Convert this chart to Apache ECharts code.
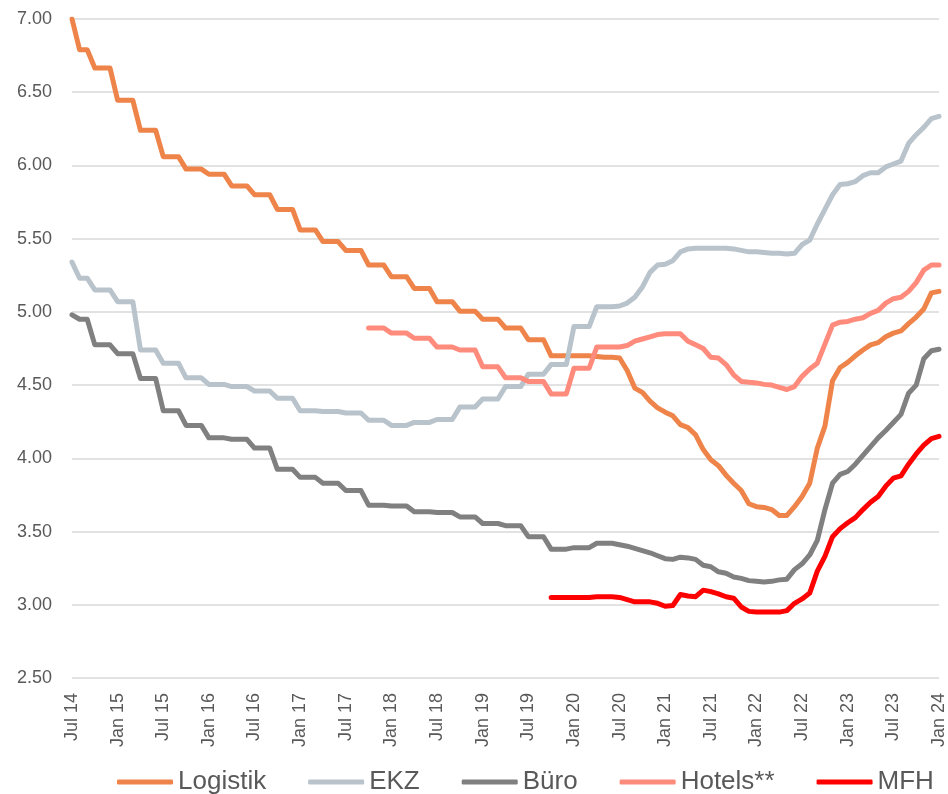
<!DOCTYPE html>
<html>
<head>
<meta charset="utf-8">
<script src="https://cdn.jsdelivr.net/npm/echarts@6/dist/echarts.min.js"></script>
<style>
  html, body { margin: 0; padding: 0; background: #fff; }
  #chart { width: 948px; height: 794px; }
</style>
</head>
<body>
<div id="chart"></div>
<script>
// Monatsachse Jul 14 .. Jan 24
var monthNames = ["Jan", "Feb", "Mar", "Apr", "May", "Jun", "Jul", "Aug", "Sep", "Oct", "Nov", "Dec"];
var categories = [];
for (var i = 0; i < 115; i++) {
  var m = (6 + i) % 12;
  var y = 14 + Math.floor((6 + i) / 12);
  categories.push(monthNames[m] + " " + y);
}

var yTicks = [2.5, 7.0, 0.5]; // min, max, interval

var logistik = [
  7.00, 6.79, 6.79, 6.665, 6.665, 6.665, 6.445, 6.445, 6.445, 6.24, 6.24, 6.24,
  6.06, 6.06, 6.06, 5.975, 5.975, 5.975, 5.94, 5.94, 5.94, 5.86, 5.86, 5.86,
  5.80, 5.80, 5.80, 5.70, 5.70, 5.70, 5.56, 5.56, 5.56, 5.48, 5.48, 5.48,
  5.42, 5.42, 5.42, 5.32, 5.32, 5.32, 5.24, 5.24, 5.24, 5.16, 5.16, 5.16,
  5.07, 5.07, 5.07, 5.005, 5.005, 5.005, 4.95, 4.95, 4.95, 4.89, 4.89, 4.89,
  4.81, 4.81, 4.81, 4.70, 4.70, 4.70, 4.70, 4.70, 4.70, 4.695, 4.69, 4.69,
  4.685, 4.60, 4.48, 4.45, 4.39, 4.345, 4.315, 4.29, 4.23, 4.21, 4.16, 4.06,
  3.99, 3.95, 3.885, 3.83, 3.78, 3.69, 3.67, 3.665, 3.65, 3.61, 3.61, 3.67,
  3.74, 3.83, 4.07, 4.22, 4.53, 4.62, 4.655, 4.70, 4.74, 4.775, 4.79, 4.83,
  4.855, 4.87, 4.92, 4.965, 5.02, 5.13, 5.14
];

var ekz = [
  5.34, 5.23, 5.23, 5.15, 5.15, 5.15, 5.07, 5.07, 5.07, 4.74, 4.74, 4.74,
  4.65, 4.65, 4.65, 4.55, 4.55, 4.55, 4.505, 4.505, 4.505, 4.49, 4.49, 4.49,
  4.46, 4.46, 4.46, 4.41, 4.41, 4.41, 4.325, 4.325, 4.325, 4.32, 4.32, 4.32,
  4.31, 4.31, 4.31, 4.26, 4.26, 4.26, 4.225, 4.225, 4.225, 4.245, 4.245, 4.245,
  4.265, 4.265, 4.265, 4.35, 4.35, 4.35, 4.405, 4.405, 4.405, 4.49, 4.49, 4.49,
  4.575, 4.575, 4.575, 4.64, 4.64, 4.64, 4.90, 4.90, 4.90, 5.035, 5.035, 5.035,
  5.04, 5.06, 5.10, 5.17, 5.27, 5.32, 5.325, 5.35, 5.41, 5.43, 5.435, 5.435,
  5.435, 5.435, 5.435, 5.43, 5.42, 5.41, 5.41, 5.405, 5.40, 5.40, 5.395, 5.40,
  5.46, 5.49, 5.60, 5.70, 5.80, 5.87, 5.875, 5.89, 5.93, 5.95, 5.95, 5.99,
  6.01, 6.03, 6.15, 6.21, 6.26, 6.32, 6.335
];

var buero = [
  4.98, 4.95, 4.95, 4.775, 4.775, 4.775, 4.715, 4.715, 4.715, 4.545, 4.545, 4.545,
  4.325, 4.325, 4.325, 4.225, 4.225, 4.225, 4.14, 4.14, 4.14, 4.13, 4.13, 4.13,
  4.07, 4.07, 4.07, 3.925, 3.925, 3.925, 3.87, 3.87, 3.87, 3.83, 3.83, 3.83,
  3.78, 3.78, 3.78, 3.68, 3.68, 3.68, 3.675, 3.675, 3.675, 3.635, 3.635, 3.635,
  3.63, 3.63, 3.63, 3.60, 3.60, 3.60, 3.555, 3.555, 3.555, 3.54, 3.54, 3.54,
  3.465, 3.465, 3.465, 3.38, 3.38, 3.38, 3.39, 3.39, 3.39, 3.42, 3.42, 3.42,
  3.41, 3.40, 3.385, 3.37, 3.355, 3.335, 3.315, 3.31, 3.325, 3.32, 3.31, 3.27,
  3.26, 3.225, 3.215, 3.19, 3.18, 3.165, 3.16, 3.155, 3.16, 3.17, 3.175, 3.24,
  3.28, 3.34, 3.44, 3.65, 3.83, 3.89, 3.91, 3.96, 4.02, 4.08, 4.14, 4.19,
  4.245, 4.30, 4.445, 4.50, 4.68, 4.735, 4.745
];

var hotels = [
  null, null, null, null, null, null, null, null, null, null, null, null,
  null, null, null, null, null, null, null, null, null, null, null, null,
  null, null, null, null, null, null, null, null, null, null, null, null,
  null, null, null, 4.89, 4.89, 4.89, 4.855, 4.855, 4.855, 4.82, 4.82, 4.82,
  4.76, 4.76, 4.76, 4.74, 4.74, 4.74, 4.625, 4.625, 4.625, 4.55, 4.55, 4.55,
  4.525, 4.525, 4.525, 4.44, 4.44, 4.44, 4.615, 4.615, 4.615, 4.76, 4.76, 4.76,
  4.76, 4.77, 4.80, 4.815, 4.83, 4.845, 4.85, 4.85, 4.85, 4.80, 4.775, 4.75,
  4.69, 4.685, 4.64, 4.57, 4.525, 4.52, 4.515, 4.505, 4.50, 4.485, 4.47, 4.49,
  4.56, 4.61, 4.65, 4.78, 4.91, 4.93, 4.935, 4.95, 4.96, 4.99, 5.01, 5.06,
  5.09, 5.10, 5.14, 5.20, 5.285, 5.32, 5.32
];

var mfh = [
  null, null, null, null, null, null, null, null, null, null, null, null,
  null, null, null, null, null, null, null, null, null, null, null, null,
  null, null, null, null, null, null, null, null, null, null, null, null,
  null, null, null, null, null, null, null, null, null, null, null, null,
  null, null, null, null, null, null, null, null, null, null, null, null,
  null, null, null, 3.05, 3.05, 3.05, 3.05, 3.05, 3.05, 3.055, 3.055, 3.055,
  3.05, 3.035, 3.02, 3.02, 3.02, 3.01, 2.99, 2.995, 3.07, 3.06, 3.055, 3.10,
  3.09, 3.075, 3.055, 3.045, 2.985, 2.955, 2.95, 2.95, 2.95, 2.95, 2.96, 3.01,
  3.04, 3.08, 3.23, 3.33, 3.465, 3.52, 3.56, 3.595, 3.65, 3.70, 3.74, 3.81,
  3.865, 3.88, 3.96, 4.03, 4.09, 4.135, 4.15
];

var seriesNames = ["Logistik", "EKZ", "Büro", "Hotels**", "MFH"];
var seriesColors = ["#EE8449", "#B9C3CB", "#808080", "#FF8B7C", "#FF0000"];
var seriesData = [logistik, ekz, buero, hotels, mfh];

var font = "'Liberation Sans', Arial, sans-serif";

function makeSeries() {
  var out = [];
  for (var i = 0; i < seriesNames.length; i++) {
    out.push({
      name: seriesNames[i],
      type: "line",
      data: seriesData[i],
      showSymbol: false,
      symbol: "none",
      connectNulls: false,
      color: seriesColors[i],
      lineStyle: { width: 5, color: seriesColors[i], cap: "round", join: "round" }
    });
  }
  return out;
}

var chart = echarts.init(document.getElementById("chart"), null, { renderer: "canvas" });
var option = {
  animation: false,
  backgroundColor: "#ffffff",
  grid: { left: 72, right: 6, top: 19, bottom: 116 },
  legend: {
    data: seriesNames,
    left: 112,
    top: 764,
    itemWidth: 56,
    itemHeight: 5,
    itemGap: 42,
    icon: "roundRect",
    textStyle: { fontSize: 26, color: "#595959", fontFamily: font }
  },
  xAxis: {
    type: "category",
    data: categories,
    boundaryGap: false,
    axisLine: { show: false },
    axisTick: { show: false },
    axisLabel: {
      interval: 5,
      rotate: 90,
      margin: 15,
      fontSize: 18,
      color: "#595959",
      fontFamily: font
    },
    splitLine: { show: false }
  },
  yAxis: {
    type: "value",
    min: yTicks[0],
    max: yTicks[1],
    interval: yTicks[2],
    axisLine: { show: false },
    axisTick: { show: false },
    axisLabel: {
      margin: 20,
      fontSize: 18,
      color: "#595959",
      fontFamily: font,
      formatter: function (v) { return v.toFixed(2); }
    },
    splitLine: { lineStyle: { color: "#D9D9D9", width: 1.5 } }
  },
  series: makeSeries()
};
chart.setOption(option);
</script>
</body>
</html>
